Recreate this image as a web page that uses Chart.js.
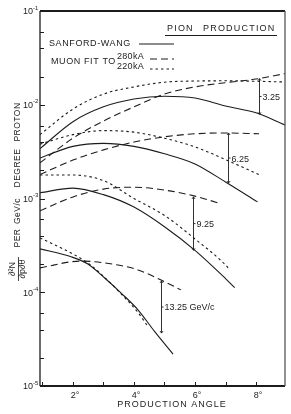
<!DOCTYPE html>
<html>
<head>
<meta charset="utf-8">
<script src="https://cdn.jsdelivr.net/npm/chart.js@4.4.0/dist/chart.umd.min.js"></script>
<style>
  html, body { margin: 0; padding: 0; background: #fff; }
  canvas { display: block; }
</style>
</head>
<body>
<canvas id="pionChart" width="291" height="414"></canvas>
<script>
// production angle (deg) and d2N/dp dtheta (per GeV/c degree proton)
const angles325 = [0.92, 2, 3, 4, 5, 6, 7, 8, 8.95];
const sw325 = [3.4e-3, 6.6e-3, 9.5e-3, 1.15e-2, 1.23e-2, 1.18e-2, 9.7e-3, 8.2e-3, 6.1e-3];
const fit220_325 = [4.8e-3, 9.0e-3, 1.3e-2, 1.55e-2, 1.74e-2, 1.79e-2, 1.8e-2, 1.78e-2, 1.75e-2];
const fit280_325 = [2.4e-3, 4.4e-3, 6.7e-3, 9.5e-3, 1.3e-2, 1.55e-2, 1.72e-2, 1.88e-2, 2.15e-2];

const anglesSw625 = [0.92, 2, 3, 4, 5, 6, 7, 8.05];
const angles625 = [0.92, 2, 3, 4, 5, 6, 7, 8.1];
const sw625 = [2.7e-3, 3.6e-3, 3.87e-3, 3.6e-3, 3.0e-3, 2.34e-3, 1.5e-3, 9.2e-4];
const fit220_625 = [3.8e-3, 4.8e-3, 5.3e-3, 5.1e-3, 4.4e-3, 3.55e-3, 2.6e-3, 1.8e-3];
const fit280_625 = [1.8e-3, 2.57e-3, 3.3e-3, 4.0e-3, 4.55e-3, 4.9e-3, 5.0e-3, 4.9e-3];

const anglesSw925 = [0.92, 2, 3, 4, 5, 6, 7, 7.3];
const angles220_925 = [0.92, 2, 3, 4, 5, 6, 7, 7.1];
const angles280_925 = [0.92, 2, 3, 4, 5, 6, 6.75];
const sw925 = [1.15e-3, 1.29e-3, 1.1e-3, 8.1e-4, 5.0e-4, 2.8e-4, 1.4e-4, 1.12e-4];
const fit220_925 = [1.78e-3, 1.78e-3, 1.55e-3, 1.0e-3, 6.6e-4, 3.7e-4, 1.96e-4, 1.8e-4];
const fit280_925 = [7.4e-4, 1.04e-3, 1.26e-3, 1.32e-3, 1.23e-3, 1.06e-3, 9.0e-4];

const anglesSw1325 = [0.92, 1.94, 2.49, 3.04, 3.58, 4.13, 4.68, 5.28];
const angles220_1325 = [0.92, 1.94, 2.49, 3.04, 3.58, 4.13, 4.46];
const angles280_1325 = [0.92, 2.26, 3.48, 4.13, 4.89, 5.54];
const sw1325 = [2.9e-4, 2.39e-4, 2.0e-4, 1.42e-4, 9.8e-5, 6.5e-5, 3.8e-5, 2.19e-5];
const fit220_1325 = [3.8e-4, 2.62e-4, 2.05e-4, 1.44e-4, 9.6e-5, 6.1e-5, 4.3e-5];
const fit280_1325 = [1.82e-4, 2.15e-4, 1.95e-4, 1.73e-4, 1.35e-4, 1.06e-4];

// brackets marking each momentum
const momentumLabels = ['3.25', '6.25', '9.25', '13.25 GeV/c'];
const bracketAngles = [8.1, 7.08, 5.93, 4.89];
const bracketTop = [1.9e-2, 5.0e-3, 1.04e-3, 1.32e-4];
const bracketBottom = [7.9e-3, 1.46e-3, 2.8e-4, 3.67e-5];

const xTickValues = [2, 4, 6, 8];
const xTickLabels = ['2°', '4°', '6°', '8°'];
const yTickExps = [-1, -2, -3, -4, -5];
const yTickSups = ['-1', '-2', '-3', '-4', '-5'];

const ink = '#1c1c1c';
const font = '"Liberation Sans", Arial, sans-serif';

function pts(xs, ys) {
    return xs.map((x, i) => ({ x: x, y: ys[i] }));
}

const solid = [];
const longDash = [7, 4];
const shortDash = [2.5, 3];

function curve(label, xs, ys, dash) {
    return {
        label: label,
        data: pts(xs, ys),
        borderColor: ink,
        borderWidth: 1.1,
        borderDash: dash,
        pointRadius: 0,
        fill: false,
        cubicInterpolationMode: 'monotone'
    };
}

const annotate = {
    id: 'annotate',
    afterDraw(chart) {
        const ctx = chart.ctx;
        const xs = chart.scales.x;
        const ys = chart.scales.y;
        const a = chart.chartArea;
        ctx.save();
        ctx.strokeStyle = ink;
        ctx.fillStyle = ink;
        ctx.setLineDash([]);

        // frame
        ctx.lineWidth = 2;
        ctx.beginPath();
        ctx.moveTo(a.left, a.top); ctx.lineTo(a.right, a.top);
        ctx.moveTo(a.left, a.bottom); ctx.lineTo(a.right, a.bottom);
        ctx.stroke();
        ctx.lineWidth = 1.3;
        ctx.beginPath();
        ctx.moveTo(a.left, a.top); ctx.lineTo(a.left, a.bottom);
        ctx.stroke();
        ctx.strokeStyle = '#555';
        ctx.beginPath();
        ctx.moveTo(a.right, a.top); ctx.lineTo(a.right, a.bottom);
        ctx.stroke();
        ctx.strokeStyle = ink;

        // y ticks (inward)
        ctx.lineWidth = 1;
        yTickExps.forEach(function (e) {
            [1, 2, 4, 6].forEach(function (m) {
                const v = m * Math.pow(10, e);
                if (v < ys.min * 0.999 || v > ys.max * 1.001) return;
                const py = Math.round(ys.getPixelForValue(v)) + 0.5;
                ctx.beginPath();
                ctx.moveTo(a.left, py);
                ctx.lineTo(a.left + (m === 1 ? 5 : 4), py);
                ctx.stroke();
            });
        });
        // x ticks (inward)
        for (let d = 1; d <= 8; d++) {
            const px = Math.round(xs.getPixelForValue(d)) + 0.5;
            ctx.beginPath();
            ctx.moveTo(px, a.bottom);
            ctx.lineTo(px, a.bottom - 4);
            ctx.stroke();
        }

        // y tick labels
        ctx.textBaseline = 'middle';
        yTickExps.forEach(function (e, i) {
            const py = ys.getPixelForValue(Math.pow(10, e));
            ctx.font = '9px ' + font;
            ctx.textAlign = 'right';
            ctx.fillText('10', 33, py + 1);
            ctx.font = '6px ' + font;
            ctx.textAlign = 'left';
            ctx.fillText(yTickSups[i], 33, py - 3);
        });

        // x tick labels
        ctx.font = '9px ' + font;
        ctx.textAlign = 'center';
        xTickValues.forEach(function (v, i) {
            ctx.fillText(xTickLabels[i], xs.getPixelForValue(v) + 2, a.bottom + 10);
        });
        ctx.letterSpacing = '1px';
        ctx.fillText('PRODUCTION ANGLE', 172, a.bottom + 19);

        // title and legend
        ctx.textAlign = 'left';
        ctx.letterSpacing = '1.2px';
        ctx.fillText('PION', 167, 29);
        ctx.fillText('PRODUCTION', 203, 29);
        ctx.lineWidth = 1;
        ctx.beginPath();
        ctx.moveTo(165, 35.5); ctx.lineTo(277, 35.5);
        ctx.stroke();

        ctx.letterSpacing = '0.6px';
        ctx.fillText('SANFORD-WANG', 49, 44);
        ctx.fillText('MUON FIT TO', 51, 62);
        ctx.letterSpacing = '0.3px';
        ctx.fillText('280kA', 117, 57);
        ctx.fillText('220kA', 117, 67);
        ctx.lineWidth = 1.1;
        [[solid, 44], [longDash, 59], [shortDash, 69]].forEach(function (s, i) {
            ctx.setLineDash(s[0]);
            ctx.beginPath();
            ctx.moveTo(i === 0 ? 139 : 150, s[1]);
            ctx.lineTo(174, s[1]);
            ctx.stroke();
        });
        ctx.setLineDash([]);

        // momentum brackets
        ctx.letterSpacing = '0px';
        ctx.font = '9px ' + font;
        momentumLabels.forEach(function (t, i) {
            const px = Math.round(xs.getPixelForValue(bracketAngles[i])) + 0.5;
            const y1 = ys.getPixelForValue(bracketTop[i]);
            const y2 = ys.getPixelForValue(bracketBottom[i]);
            const ym = (y1 + y2) / 2;
            ctx.lineWidth = 0.9;
            ctx.beginPath();
            ctx.moveTo(px, y1); ctx.lineTo(px, y2);
            ctx.moveTo(px - 1.5, y1 + 2); ctx.lineTo(px, y1); ctx.lineTo(px + 1.5, y1 + 2);
            ctx.moveTo(px - 1.5, y2 - 2); ctx.lineTo(px, y2); ctx.lineTo(px + 1.5, y2 - 2);
            ctx.moveTo(px, ym); ctx.lineTo(px + 2, ym);
            ctx.stroke();
            ctx.fillText(t, px + 3, ym + 1);
        });

        // y axis title (rotated)
        ctx.save();
        ctx.translate(18, 0);
        ctx.rotate(-Math.PI / 2);
        ctx.textAlign = 'center';
        ctx.letterSpacing = '0.5px';
        ctx.font = '8.5px ' + font;
        [['PER', 238], ['GeV/c', 211], ['DEGREE', 168], ['PROTON', 122]].forEach(function (w) {
            ctx.fillText(w[0], -w[1], 0);
        });
        // fraction d2N / dp dtheta
        ctx.letterSpacing = '0px';
        ctx.font = '9px ' + font;
        ctx.fillText('\u2202\u00b2N', -269, -5);
        ctx.fillText('\u2202p\u2202\u03b8', -269, 5);
        ctx.lineWidth = 0.8;
        ctx.beginPath();
        ctx.moveTo(-281, 0.5); ctx.lineTo(-257, 0.5);
        ctx.stroke();
        ctx.restore();

        ctx.restore();
    }
};

new Chart(document.getElementById('pionChart').getContext('2d'), {
    type: 'line',
    data: {
        datasets: [
            curve('Sanford-Wang 3.25', angles325, sw325, solid),
            curve('280kA 3.25', angles325, fit280_325, longDash),
            curve('220kA 3.25', angles325, fit220_325, shortDash),
            curve('Sanford-Wang 6.25', anglesSw625, sw625, solid),
            curve('280kA 6.25', angles625, fit280_625, longDash),
            curve('220kA 6.25', angles625, fit220_625, shortDash),
            curve('Sanford-Wang 9.25', anglesSw925, sw925, solid),
            curve('280kA 9.25', angles280_925, fit280_925, longDash),
            curve('220kA 9.25', angles220_925, fit220_925, shortDash),
            curve('Sanford-Wang 13.25', anglesSw1325, sw1325, solid),
            curve('280kA 13.25', angles280_1325, fit280_1325, longDash),
            curve('220kA 13.25', angles220_1325, fit220_1325, shortDash)
        ]
    },
    options: {
        responsive: false,
        animation: false,
        devicePixelRatio: 1,
        layout: { padding: { left: 40, top: 11, right: 6, bottom: 28 } },
        plugins: { legend: { display: false }, tooltip: { enabled: false } },
        scales: {
            x: { type: 'linear', min: 0.92, max: 8.95, display: false },
            y: { type: 'logarithmic', min: 1e-5, max: 1e-1, display: false }
        }
    },
    plugins: [annotate]
});
</script>
</body>
</html>
